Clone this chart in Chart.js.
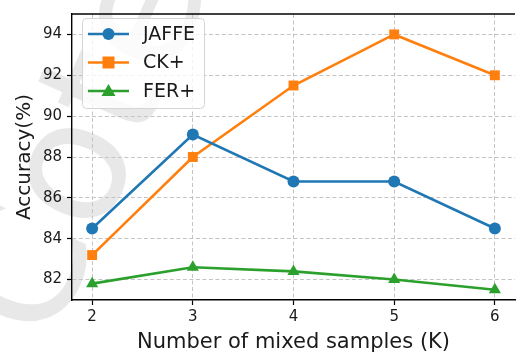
<!DOCTYPE html>
<html>
<head>
<meta charset="utf-8">
<script src="https://cdn.jsdelivr.net/npm/chart.js@4.4.1/dist/chart.umd.min.js"></script>
<style>
  html, body { margin: 0; padding: 0; background: #fff; overflow: hidden; }
  #wrap { position: relative; width: 522px; height: 355px; }
</style>
</head>
<body>
<div id="wrap"><canvas id="accChart"></canvas></div>
<script>
/* ======================
DATA
====================== */

const samplesK = [2, 3, 4, 5, 6];
const jaffeAcc = [84.5, 89.1, 86.8, 86.8, 84.5];
const ckAcc = [83.2, 88.0, 91.5, 94.0, 92.0];
const ferAcc = [81.8, 82.6, 82.4, 82.0, 81.5];
const yTicks = [82, 84, 86, 88, 90, 92, 94];
const xTicks = [2, 3, 4, 5, 6];

const FONT = "'DejaVu Sans', sans-serif";

function toPoints(vals) {
  return samplesK.map((k, i) => ({ x: k, y: vals[i] }));
}

/* ======================
PLUGINS
====================== */

// faint watermark behind the plot
const watermark = {
  id: "watermark",
  beforeDraw(chart) {
    const ctx = chart.ctx;
    ctx.save();
    ctx.translate(90, 150);
    ctx.rotate(-1.15);
    ctx.font = "170px " + FONT;
    ctx.fillStyle = "rgba(0,0,0,0.09)";
    ctx.textAlign = "center";
    ctx.textBaseline = "middle";
    ctx.fillText("Cote", 0, 0);
    ctx.restore();
  },
};

// top spine
const frame = {
  id: "frame",
  afterDatasetsDraw(chart) {
    const a = chart.chartArea;
    const ctx = chart.ctx;
    ctx.save();
    ctx.strokeStyle = "#000";
    ctx.lineWidth = 1.3;
    ctx.beginPath();
    ctx.moveTo(a.left, a.top);
    ctx.lineTo(a.right, a.top);
    ctx.stroke();
    ctx.restore();
  },
};

// matplotlib style legend (line + marker + label)
const mplLegend = {
  id: "mplLegend",
  afterDraw(chart) {
    const ctx = chart.ctx;
    const x0 = 82, y0 = 18, w = 122, h = 90;
    ctx.save();
    ctx.fillStyle = "rgba(255,255,255,0.8)";
    ctx.strokeStyle = "#d5d5d5";
    ctx.lineWidth = 1;
    ctx.beginPath();
    ctx.roundRect(x0 + 0.5, y0 + 0.5, w, h, 4);
    ctx.fill();
    ctx.stroke();

    chart.data.datasets.forEach((ds, i) => {
      const y = y0 + 16 + i * 28.5;
      ctx.strokeStyle = ds.borderColor;
      ctx.lineWidth = 2.6;
      ctx.beginPath();
      ctx.moveTo(88, y);
      ctx.lineTo(129, y);
      ctx.stroke();
      ctx.fillStyle = ds.borderColor;
      const cx = 108.5;
      ctx.beginPath();
      if (ds.pointStyle === "rect") {
        ctx.rect(cx - 6, y - 6, 12, 12);
      } else if (ds.pointStyle === "triangle") {
        ctx.moveTo(cx, y - 7);
        ctx.lineTo(cx + 7, y + 5);
        ctx.lineTo(cx - 7, y + 5);
        ctx.closePath();
      } else {
        ctx.arc(cx, y, 6, 0, Math.PI * 2);
      }
      ctx.fill();
      ctx.fillStyle = "#1a1a1a";
      ctx.font = "19px " + FONT;
      ctx.textBaseline = "middle";
      ctx.fillText(ds.label, 143, y + 1);
    });
    ctx.restore();
  },
};

/* ======================
CHART
====================== */

const series = [
  { label: "JAFFE", vals: jaffeAcc, color: "#1f77b4", style: "circle", r: 6 },
  { label: "CK+", vals: ckAcc, color: "#ff7f0e", style: "rect", r: 7 },
  { label: "FER+", vals: ferAcc, color: "#2ca02c", style: "triangle", r: 7 },
];

new Chart(document.getElementById("accChart"), {
  type: "line",
  data: {
    datasets: series.map((s) => ({
      label: s.label,
      data: toPoints(s.vals),
      borderColor: s.color,
      backgroundColor: s.color,
      borderWidth: 2.6,
      pointStyle: s.style,
      pointRadius: s.r,
      pointBorderWidth: 0,
      pointHoverRadius: s.r,
      tension: 0,
    })),
  },
  options: {
    responsive: true,
    maintainAspectRatio: false,
    animation: false,
    devicePixelRatio: 1,
    layout: { padding: { top: 8, right: 0, left: 0, bottom: 0 } },
    plugins: {
      legend: { display: false },
      tooltip: { enabled: false },
    },
    scales: {
      x: {
        type: "linear",
        min: 1.8,
        max: 6.2,
        afterBuildTicks(axis) {
          axis.ticks = xTicks.map((v) => ({ value: v }));
        },
        afterFit(axis) {
          axis.height = 55;
        },
        ticks: {
          color: "#1a1a1a",
          font: { family: FONT, size: 15 },
          padding: 3,
          maxRotation: 0,
        },
        grid: {
          color: "#c4c4c4",
          lineWidth: 1,
          tickColor: "#000",
          tickLength: 5,
          tickWidth: 1.2,
          tickBorderDash: [],
        },
        border: { display: true, color: "#000", width: 1.4, dash: [4, 2.5] },
        title: {
          display: true,
          text: "Number of mixed samples (K)",
          color: "#1a1a1a",
          font: { family: FONT, size: 21 },
          padding: { top: 0, bottom: 0 },
        },
      },
      y: {
        min: 81,
        max: 95,
        afterBuildTicks(axis) {
          axis.ticks = yTicks.map((v) => ({ value: v }));
        },
        afterFit(axis) {
          axis.width = 72;
        },
        ticks: {
          color: "#1a1a1a",
          font: { family: FONT, size: 15 },
          padding: 5,
        },
        grid: {
          color: "#c4c4c4",
          lineWidth: 1,
          tickColor: "#000",
          tickLength: 5,
          tickWidth: 1.2,
          tickBorderDash: [],
        },
        border: { display: true, color: "#000", width: 1.4, dash: [4, 2.5] },
        title: {
          display: true,
          text: "Accuracy(%)",
          color: "#1a1a1a",
          font: { family: FONT, size: 20 },
          padding: { top: 13, bottom: 0 },
        },
      },
    },
  },
  plugins: [watermark, frame, mplLegend],
});
</script>
</body>
</html>
